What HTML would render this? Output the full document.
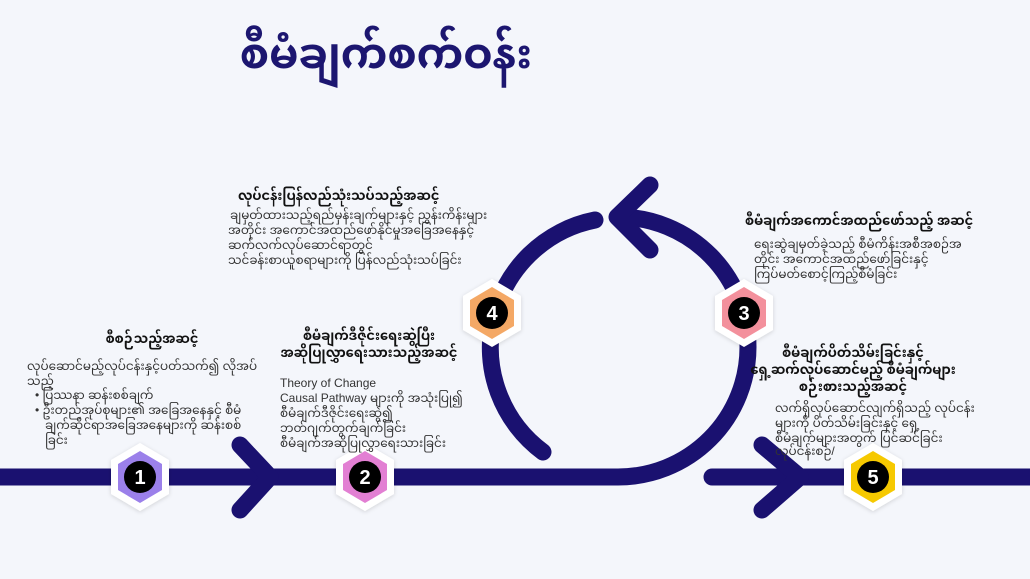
<!DOCTYPE html>
<html><head><meta charset="utf-8"><style>
html,body{margin:0;padding:0;background:#f4f6fb;}
svg{display:block}
text{font-family:"Liberation Sans","Noto Sans Myanmar","Padauk","Myanmar Text",sans-serif;fill:#222;}
.t{font-weight:bold;font-size:13px;fill:#111}
.b{font-size:12px;fill:#333}
</style></head><body>
<svg width="1030" height="579" viewBox="0 0 1030 579" xmlns="http://www.w3.org/2000/svg">
<defs>
<filter id="sh" x="-30%" y="-30%" width="160%" height="160%"><feDropShadow dx="0" dy="1" stdDeviation="2" flood-color="#000" flood-opacity="0.15"/></filter>
</defs>
<rect width="1030" height="579" fill="#f4f6fb"/>
<text x="386" y="68" text-anchor="middle" style="font-size:42px;font-weight:bold;fill:#1c1670">စီမံချက်စက်ဝန်း</text>
<g fill="none" stroke="#1a1170" stroke-width="17" stroke-linecap="round" stroke-linejoin="round">
<path d="M0 477 H618 A130 130 0 0 0 748 347 A130 130 0 0 0 620 217"/>
<path d="M595 220 A130 130 0 0 0 543 452"/>
<path d="M650 185 L617 217 L650 250"/>
<path d="M712 477 H1030"/>
<path d="M762 445 L800 477 L762 510"/>
<path d="M240 445 L270 477 L240 510"/>
</g>
<g>
<g transform="translate(140,477)"><polygon points="0,-34 29,-17 29,17 0,34 -29,17 -29,-17" fill="#fff" filter="url(#sh)"/><polygon points="0,-26 22,-13 22,13 0,26 -22,13 -22,-13" fill="#9b80ea"/><circle r="16" fill="#000"/><text y="7" text-anchor="middle" style="font-size:20px;font-weight:bold;fill:#fff">1</text></g>
<g transform="translate(365,477)"><polygon points="0,-34 29,-17 29,17 0,34 -29,17 -29,-17" fill="#fff" filter="url(#sh)"/><polygon points="0,-26 22,-13 22,13 0,26 -22,13 -22,-13" fill="#e27fd3"/><circle r="16" fill="#000"/><text y="7" text-anchor="middle" style="font-size:20px;font-weight:bold;fill:#fff">2</text></g>
<g transform="translate(492,313)"><polygon points="0,-34 29,-17 29,17 0,34 -29,17 -29,-17" fill="#fff" filter="url(#sh)"/><polygon points="0,-26 22,-13 22,13 0,26 -22,13 -22,-13" fill="#f4a865"/><circle r="16" fill="#000"/><text y="7" text-anchor="middle" style="font-size:20px;font-weight:bold;fill:#fff">4</text></g>
<g transform="translate(744,313)"><polygon points="0,-34 29,-17 29,17 0,34 -29,17 -29,-17" fill="#fff" filter="url(#sh)"/><polygon points="0,-26 22,-13 22,13 0,26 -22,13 -22,-13" fill="#f3909c"/><circle r="16" fill="#000"/><text y="7" text-anchor="middle" style="font-size:20px;font-weight:bold;fill:#fff">3</text></g>
<g transform="translate(873,477)"><polygon points="0,-34 29,-17 29,17 0,34 -29,17 -29,-17" fill="#fff" filter="url(#sh)"/><polygon points="0,-26 22,-13 22,13 0,26 -22,13 -22,-13" fill="#f6c900"/><circle r="16" fill="#000"/><text y="7" text-anchor="middle" style="font-size:20px;font-weight:bold;fill:#fff">5</text></g>
</g>

<text class="t" x="152" y="343" text-anchor="middle">စီစဉ်သည့်အဆင့်</text>
<text class="b" x="27" y="370">လုပ်ဆောင်မည့်လုပ်ငန်းနှင့်ပတ်သက်၍  လိုအပ်</text>
<text class="b" x="27" y="385">သည့်</text>
<text class="b" x="35" y="399">•  ပြဿနာ ဆန်းစစ်ချက်</text>
<text class="b" x="35" y="414">•  ဦးတည်အုပ်စုများ၏  အခြေအနေနှင့်  စီမံ</text>
<text class="b" x="45" y="429">ချက်ဆိုင်ရာအခြေအနေများကို    ဆန်းစစ်</text>
<text class="b" x="45" y="444">ခြင်း</text>

<text class="t" x="369" y="340" text-anchor="middle">စီမံချက်ဒီဇိုင်းရေးဆွဲပြီး</text>
<text class="t" x="369" y="357" text-anchor="middle">အဆိုပြုလွှာရေးသားသည့်အဆင့်</text>
<text class="b" x="280" y="387">Theory of Change</text>
<text class="b" x="280" y="402">Causal Pathway များကို အသုံးပြု၍</text>
<text class="b" x="280" y="417">စီမံချက်ဒီဇိုင်းရေးဆွဲ၍</text>
<text class="b" x="280" y="432">ဘတ်ဂျက်တွက်ချက်ခြင်း</text>
<text class="b" x="280" y="447">စီမံချက်အဆိုပြုလွှာရေးသားခြင်း</text>

<text class="t" x="238" y="200">လုပ်ငန်းပြန်လည်သုံးသပ်သည့်အဆင့်</text>
<text class="b" x="230" y="219">ချမှတ်ထားသည့်ရည်မှန်းချက်များနှင့် ညွှန်းကိန်းများ</text>
<text class="b" x="228" y="234">အတိုင်း အကောင်အထည်ဖော်နိုင်မှုအခြေအနေနှင့်</text>
<text class="b" x="228" y="249">ဆက်လက်လုပ်ဆောင်ရာတွင်</text>
<text class="b" x="228" y="264">သင်ခန်းစာယူစရာများကို  ပြန်လည်သုံးသပ်ခြင်း</text>

<text class="t" x="745" y="225">စီမံချက်အကောင်အထည်ဖော်သည့် အဆင့်</text>
<text class="b" x="754" y="248">ရေးဆွဲချမှတ်ခဲ့သည့် စီမံကိန်းအစီအစဉ်အ</text>
<text class="b" x="754" y="263">တိုင်း အကောင်အထည်ဖော်ခြင်းနှင့်</text>
<text class="b" x="754" y="278">ကြပ်မတ်စောင့်ကြည့်စီမံခြင်း</text>

<text class="t" x="853" y="357" text-anchor="middle">စီမံချက်ပိတ်သိမ်းခြင်းနှင့်</text>
<text class="t" x="853" y="374" text-anchor="middle">ရှေ့ဆက်လုပ်ဆောင်မည့် စီမံချက်များ</text>
<text class="t" x="853" y="391" text-anchor="middle">စဉ်းစားသည့်အဆင့်</text>
<text class="b" x="775" y="412">လက်ရှိလုပ်ဆောင်လျက်ရှိသည့် လုပ်ငန်း</text>
<text class="b" x="775" y="427">များကို ပိတ်သိမ်းခြင်းနှင့် ရှေ့</text>
<text class="b" x="775" y="442">စီမံချက်များအတွက် ပြင်ဆင်ခြင်း</text>
<text class="b" x="775" y="455">လုပ်ငန်းစဉ်/</text>
</svg>
</body></html>
